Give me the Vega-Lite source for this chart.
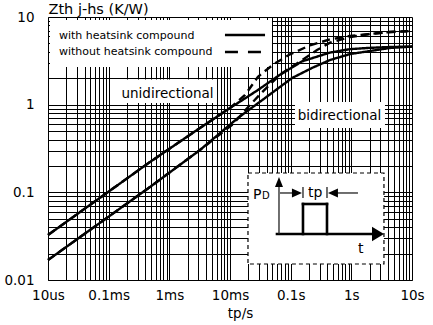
{
  "$schema": "https://vega.github.io/schema/vega-lite/v6.json",
  "width": 364,
  "height": 263,
  "autosize": {"type": "none"},
  "padding": {"left": 48, "top": 17, "right": 21, "bottom": 45},
  "background": "white",
  "config": {"view": {"stroke": null}, "font": "DejaVu Sans", "text": {"font": "DejaVu Sans", "color": "#000"}},
  "encoding": {
    "x": {
      "field": "x", "type": "quantitative",
      "scale": {"type": "log", "domain": [0.00001, 10], "nice": false},
      "axis": {
        "values": [0.00001,0.00002,0.00003,0.00004,0.00005,0.00006,0.00007,0.00008,0.00009,
                   0.0001,0.0002,0.0003,0.0004,0.0005,0.0006,0.0007,0.0008,0.0009,
                   0.001,0.002,0.003,0.004,0.005,0.006,0.007,0.008,0.009,
                   0.01,0.02,0.03,0.04,0.05,0.06,0.07,0.08,0.09,
                   0.1,0.2,0.3,0.4,0.5,0.6,0.7,0.8,0.9,
                   1,2,3,4,5,6,7,8,9,10],
        "labelExpr": "datum.value == 0.00001 ? '10us' : datum.value == 0.0001 ? '0.1ms' : datum.value == 0.001 ? '1ms' : datum.value == 0.01 ? '10ms' : datum.value == 0.1 ? '0.1s' : datum.value == 1 ? '1s' : datum.value == 10 ? '10s' : ''",
        "grid": true, "gridColor": "#000", "gridWidth": 1, "gridOpacity": 1,
        "ticks": false, "domain": true, "domainColor": "#000", "domainWidth": 1,
        "labelFont": "DejaVu Sans", "labelFontSize": 13.5, "labelColor": "#000",
        "labelPadding": 8, "labelOverlap": false, "labelFlush": false,
        "title": "tp/s", "titleFont": "DejaVu Sans", "titleFontSize": 13.5, "titleFontWeight": "normal",
        "titleColor": "#000", "titleX": 192, "titleY": 37, "titleBaseline": "alphabetic", "titleAlign": "center"
      }
    },
    "y": {
      "field": "y", "type": "quantitative",
      "scale": {"type": "log", "domain": [0.01, 10], "nice": false},
      "axis": {
        "values": [0.01,0.02,0.03,0.04,0.05,0.06,0.07,0.08,0.09,
                   0.1,0.2,0.3,0.4,0.5,0.6,0.7,0.8,0.9,
                   1,2,3,4,5,6,7,8,9,10],
        "labelExpr": "datum.value == 0.01 ? '0.01' : datum.value == 0.1 ? '0.1' : datum.value == 1 ? '1' : datum.value == 10 ? '10' : ''",
        "grid": true, "gridColor": "#000", "gridWidth": 1, "gridOpacity": 1,
        "ticks": false, "domain": true, "domainColor": "#000", "domainWidth": 1,
        "labelFont": "DejaVu Sans", "labelFontSize": 13.5, "labelColor": "#000",
        "labelPadding": 14, "labelOverlap": false, "labelFlush": false,
        "title": "Zth j-hs (K/W)", "titleFont": "DejaVu Sans", "titleFontSize": 14.5, "titleFontWeight": "normal",
        "titleColor": "#000", "titleAngle": 0, "titleAlign": "left", "titleBaseline": "alphabetic",
        "titleX": 0, "titleY": -4
      }
    }
  },
  "layer": [
    {
      "data": {"values": [
        {"x": 0.00001079, "x2": 0.0492, "y": 2.69, "y2": 9.24},
        {"x": 0.0001538, "x2": 0.00611, "y": 1.045, "y2": 1.936},
        {"x": 0.1178, "x2": 3.586, "y": 0.542, "y2": 1.073}
      ]},
      "mark": {"type": "rect", "fill": "white"},
      "encoding": {"x2": {"field": "x2"}, "y2": {"field": "y2"}}
    },
    {
      "data": {"values": [{"x": 0.01979, "x2": 3.45, "y": 0.01523, "y2": 0.1662}]},
      "mark": {"type": "rect", "fill": "white", "stroke": "black", "strokeDash": [4, 3], "strokeWidth": 1.2},
      "encoding": {"x2": {"field": "x2"}, "y2": {"field": "y2"}}
    },
    {
      "data": {"values": [
        {"curve": "uni-with", "compound": "with", "x": 0.00001, "y": 0.0326},
        {"curve": "uni-with", "compound": "with", "x": 0.0000492, "y": 0.0718},
        {"curve": "uni-with", "compound": "with", "x": 0.00048, "y": 0.222},
        {"curve": "uni-with", "compound": "with", "x": 0.0032, "y": 0.542},
        {"curve": "uni-with", "compound": "with", "x": 0.01, "y": 0.916},
        {"curve": "uni-with", "compound": "with", "x": 0.0177, "y": 1.18},
        {"curve": "uni-with", "compound": "with", "x": 0.0289, "y": 1.47},
        {"curve": "uni-with", "compound": "with", "x": 0.0618, "y": 2.12},
        {"curve": "uni-with", "compound": "with", "x": 0.154, "y": 3.12},
        {"curve": "uni-with", "compound": "with", "x": 0.445, "y": 3.93},
        {"curve": "uni-with", "compound": "with", "x": 0.951, "y": 4.3},
        {"curve": "uni-with", "compound": "with", "x": 2.03, "y": 4.45},
        {"curve": "uni-with", "compound": "with", "x": 4.33, "y": 4.55},
        {"curve": "uni-with", "compound": "with", "x": 10, "y": 4.6},
        {"curve": "uni-without", "compound": "without", "x": 0.00001, "y": 0.0326},
        {"curve": "uni-without", "compound": "without", "x": 0.0000492, "y": 0.0718},
        {"curve": "uni-without", "compound": "without", "x": 0.00048, "y": 0.222},
        {"curve": "uni-without", "compound": "without", "x": 0.0032, "y": 0.542},
        {"curve": "uni-without", "compound": "without", "x": 0.01, "y": 0.916},
        {"curve": "uni-without", "compound": "without", "x": 0.0136, "y": 1.1},
        {"curve": "uni-without", "compound": "without", "x": 0.0177, "y": 1.29},
        {"curve": "uni-without", "compound": "without", "x": 0.0289, "y": 2.08},
        {"curve": "uni-without", "compound": "without", "x": 0.0378, "y": 2.42},
        {"curve": "uni-without", "compound": "without", "x": 0.0552, "y": 2.96},
        {"curve": "uni-without", "compound": "without", "x": 0.0975, "y": 3.75},
        {"curve": "uni-without", "compound": "without", "x": 0.208, "y": 4.75},
        {"curve": "uni-without", "compound": "without", "x": 0.445, "y": 5.55},
        {"curve": "uni-without", "compound": "without", "x": 0.951, "y": 6.07},
        {"curve": "uni-without", "compound": "without", "x": 2.03, "y": 6.4},
        {"curve": "uni-without", "compound": "without", "x": 4.33, "y": 6.74},
        {"curve": "uni-without", "compound": "without", "x": 10, "y": 6.92},
        {"curve": "bi-with", "compound": "with", "x": 0.00001, "y": 0.0169},
        {"curve": "bi-with", "compound": "with", "x": 0.0000492, "y": 0.0372},
        {"curve": "bi-with", "compound": "with", "x": 0.00048, "y": 0.115},
        {"curve": "bi-with", "compound": "with", "x": 0.0032, "y": 0.304},
        {"curve": "bi-with", "compound": "with", "x": 0.0135, "y": 0.705},
        {"curve": "bi-with", "compound": "with", "x": 0.0378, "y": 1.19},
        {"curve": "bi-with", "compound": "with", "x": 0.105, "y": 2.01},
        {"curve": "bi-with", "compound": "with", "x": 0.224, "y": 2.62},
        {"curve": "bi-with", "compound": "with", "x": 0.445, "y": 3.23},
        {"curve": "bi-with", "compound": "with", "x": 0.951, "y": 3.78},
        {"curve": "bi-with", "compound": "with", "x": 2.03, "y": 4.09},
        {"curve": "bi-with", "compound": "with", "x": 4.33, "y": 4.43},
        {"curve": "bi-with", "compound": "with", "x": 10, "y": 4.6},
        {"curve": "bi-without", "compound": "without", "x": 0.00001, "y": 0.0169},
        {"curve": "bi-without", "compound": "without", "x": 0.0000492, "y": 0.0372},
        {"curve": "bi-without", "compound": "without", "x": 0.00048, "y": 0.115},
        {"curve": "bi-without", "compound": "without", "x": 0.0032, "y": 0.304},
        {"curve": "bi-without", "compound": "without", "x": 0.0112, "y": 0.6},
        {"curve": "bi-without", "compound": "without", "x": 0.0152, "y": 0.76},
        {"curve": "bi-without", "compound": "without", "x": 0.021, "y": 0.98},
        {"curve": "bi-without", "compound": "without", "x": 0.035, "y": 1.42},
        {"curve": "bi-without", "compound": "without", "x": 0.0692, "y": 2.24},
        {"curve": "bi-without", "compound": "without", "x": 0.154, "y": 3.23},
        {"curve": "bi-without", "compound": "without", "x": 0.272, "y": 4.2},
        {"curve": "bi-without", "compound": "without", "x": 0.445, "y": 5.1},
        {"curve": "bi-without", "compound": "without", "x": 0.951, "y": 5.9},
        {"curve": "bi-without", "compound": "without", "x": 2.03, "y": 6.4},
        {"curve": "bi-without", "compound": "without", "x": 4.33, "y": 6.74},
        {"curve": "bi-without", "compound": "without", "x": 10, "y": 6.92}
      ]},
      "mark": {"type": "line", "color": "black", "strokeWidth": 2.4},
      "encoding": {
        "detail": {"field": "curve", "type": "nominal"},
        "strokeDash": {"field": "compound", "type": "nominal", "scale": {"domain": ["with", "without"], "range": [[1, 0], [8, 5]]}, "legend": null}
      }
    },
    {
      "data": {"values": [{"x": 0.00826, "x2": 0.0378, "y": 6.23}]},
      "mark": {"type": "rule", "color": "black", "strokeWidth": 2.4},
      "encoding": {"x2": {"field": "x2"}}
    },
    {
      "data": {"values": [{"x": 0.00826, "x2": 0.0378, "y": 3.99}]},
      "mark": {"type": "rule", "color": "black", "strokeWidth": 2.4, "strokeDash": [13, 10]},
      "encoding": {"x2": {"field": "x2"}}
    },
    {
      "data": {"values": [
        {"x": 0.00001518, "y": 5.57, "label": "with heatsink compound"},
        {"x": 0.00001518, "y": 3.69, "label": "without heatsink compound"}
      ]},
      "mark": {"type": "text", "align": "left", "baseline": "alphabetic", "fontSize": 11, "color": "black"},
      "encoding": {"text": {"field": "label"}}
    },
    {
      "data": {"values": [
        {"x": 0.000933, "y": 1.182, "label": "unidirectional"},
        {"x": 0.6376, "y": 0.668, "label": "bidirectional"}
      ]},
      "mark": {"type": "text", "align": "center", "baseline": "alphabetic", "fontSize": 13.5, "color": "black"},
      "encoding": {"text": {"field": "label"}}
    },
    {
      "data": {"values": [
        {"x": 0.0595, "x2": 2.75, "y": 0.03348, "y2": 0.03348},
        {"x": 0.1596, "x2": 0.1596, "y": 0.03348, "y2": 0.0736},
        {"x": 0.1596, "x2": 0.397, "y": 0.0736, "y2": 0.0736},
        {"x": 0.397, "x2": 0.397, "y": 0.0736, "y2": 0.03348}
      ]},
      "mark": {"type": "rule", "color": "black", "strokeWidth": 2.6, "strokeCap": "square"},
      "encoding": {"x2": {"field": "x2"}, "y2": {"field": "y2"}}
    },
    {
      "data": {"values": [
        {"x": 0.0642, "x2": 0.0642, "y": 0.03348, "y2": 0.1151},
        {"x": 0.0667, "x2": 0.127, "y": 0.0983, "y2": 0.0983},
        {"x": 0.498, "x2": 1.287, "y": 0.0983, "y2": 0.0983},
        {"x": 0.1596, "x2": 0.1596, "y": 0.0862, "y2": 0.1151},
        {"x": 0.397, "x2": 0.397, "y": 0.0862, "y2": 0.1151}
      ]},
      "mark": {"type": "rule", "color": "#222", "strokeWidth": 1.3},
      "encoding": {"x2": {"field": "x2"}, "y2": {"field": "y2"}}
    },
    {
      "data": {"values": [
        {"x": 0.02393, "y": 0.0839, "label": "P"},
        {"x": 0.193, "y": 0.0891, "label": "tp"},
        {"x": 1.287, "y": 0.0203, "label": "t"}
      ]},
      "mark": {"type": "text", "align": "left", "baseline": "alphabetic", "fontSize": 14, "color": "black"},
      "encoding": {"text": {"field": "label"}}
    },
    {
      "data": {"values": [{"x": 0.0336, "y": 0.0839, "label": "D"}]},
      "mark": {"type": "text", "align": "left", "baseline": "alphabetic", "fontSize": 10, "color": "black"},
      "encoding": {"text": {"field": "label"}}
    },
    {
      "data": {"values": [{"x": 0.0642, "y": 0.1312}]},
      "mark": {"type": "point", "shape": "M0,-1L0.8,1L-0.8,1Z", "filled": true, "color": "black", "opacity": 1, "size": 100}
    },
    {
      "data": {"values": [{"x": 2.75, "y": 0.03348}]},
      "mark": {"type": "point", "shape": "M1,0L-1,-1.2L-1,1.2Z", "filled": true, "color": "black", "opacity": 1, "size": 144}
    },
    {
      "data": {"values": [{"x": 0.127, "y": 0.0983}]},
      "mark": {"type": "point", "shape": "M1,0L-1,-0.9L-1,0.9Z", "filled": true, "color": "black", "opacity": 1, "size": 100}
    },
    {
      "data": {"values": [{"x": 0.498, "y": 0.0983}]},
      "mark": {"type": "point", "shape": "M-1,0L1,-0.9L1,0.9Z", "filled": true, "color": "black", "opacity": 1, "size": 100}
    }
  ]
}
